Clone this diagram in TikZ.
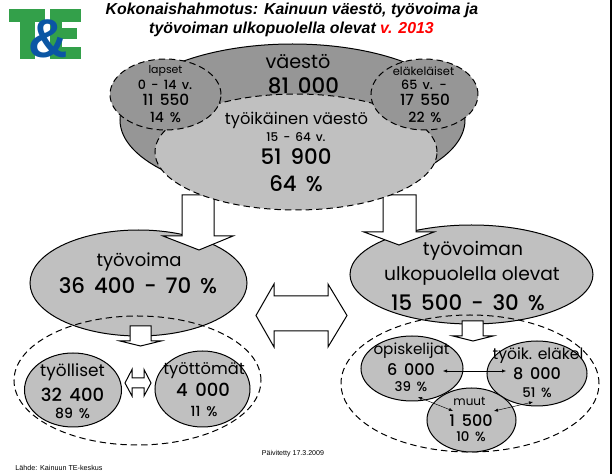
\documentclass[tikz,border=0pt]{standalone}
\usepackage{fontspec}
\setmainfont{Poppins}
\newfontfamily\medf[UprightFont=* Medium]{Poppins}
\newfontfamily\arialf{Liberation Sans}
\usetikzlibrary{shapes.geometric,arrows.meta}
\definecolor{darkg}{HTML}{969696}
\definecolor{lightg}{HTML}{C0C0C0}
\definecolor{logog}{HTML}{33A04A}
\definecolor{logob}{HTML}{0B56A4}
\newcommand{\numf}[1]{\medf\fontsize{#1}{#1}\selectfont\spaceskip=.42em\relax}
\newcommand{\wordf}[1]{\fontsize{#1}{#1}\selectfont}
\tikzset{
 x=0.75pt,y=-0.75pt,
 ell/.style={ellipse,draw=black,line width=0.75pt,inner sep=0pt,outer sep=0pt},
 dashy/.style={dash pattern=on 4.8pt off 3pt},
 blockar/.style={draw=black,fill=white,line width=0.75pt,line join=miter},
 txt/.style={inner sep=0pt,anchor=center},
 thinar/.style={{Latex[length=3pt,width=2.5pt]}-{Latex[length=3pt,width=2.5pt]},line width=0.35pt},
}
\newcommand{\ellat}[6]{\node[ell,minimum width=#3*0.75pt,minimum height=#4*0.75pt,#6] (#5) at (#1,#2) {};}
\begin{document}
\begin{tikzpicture}
\useasboundingbox (0,0) rectangle (612,474);
\fill[black] (609.5,0) rectangle (612,474);
% logo
\fill[logog] (9,9) rectangle (45,22);
\fill[logog] (20,22) rectangle (35,59);
\fill[logog] (50,9) rectangle (81,22);
\fill[logog] (50,9) rectangle (62,59);
\fill[logog] (50,28) rectangle (77,39);
\fill[logog] (50,47) rectangle (81,59);
\node[txt,text=logob,font=\arialf\bfseries\fontsize{41}{41}\selectfont] (amp) at (48,39) {\&};
% title
\node[txt,font=\arialf\bfseries\itshape\fontsize{11.9}{13}\selectfont] (t1) at (292,10) {Kokonaishahmotus: Kainuun väestö, työvoima ja};
\node[txt,font=\arialf\bfseries\itshape\fontsize{11.9}{13}\selectfont] (t2) at (291.5,29) {työvoiman ulkopuolella olevat \textcolor{red}{v. 2013}};
% top and middle ellipses
\ellat{292.5}{120}{345}{152}{vaesto}{fill=darkg}
\ellat{138.5}{283}{217}{106}{tv}{fill=lightg}
\ellat{471.5}{274.5}{243}{99}{ulko}{fill=lightg}
\draw[blockar] (182,215) -- (182,195) -- (214,195) -- (214,236) -- (233,236) -- (199,250) -- (163,236) -- (182,236) -- cycle;
\draw[blockar] (383,215) -- (383,195) -- (416,195) -- (416,232) -- (434,232) -- (399,245) -- (364,232) -- (383,232) -- cycle;
\ellat{296}{152}{282}{116}{tyoik}{fill=lightg,dashy}
\ellat{165.5}{94.5}{111}{71}{lapset}{fill=darkg,dashy}
\ellat{424.5}{94.5}{107}{71}{elak}{fill=darkg,dashy}
\node[txt,font=\wordf{14.4}] (v1) at (298,62) {väestö};
\node[txt,font=\numf{16}] (v2) at (303.5,86) {81 000};
\node[txt,font=\wordf{8.2}] (l1) at (165.5,71) {lapset};
\node[txt,font=\numf{9.5}] (l2) at (165,85) {0 - 14 v.};
\node[txt,font=\numf{11.5}] (l3) at (166,100) {11 550};
\node[txt,font=\numf{10.5}] (l4) at (165.5,117) {14 \%};
\node[txt,font=\wordf{8.6}] (e1) at (423.5,71) {eläkeläiset};
\node[txt,font=\numf{9.5}] (e2) at (424,85) {65 v. -};
\node[txt,font=\numf{11.5}] (e3) at (425,100) {17 550};
\node[txt,font=\numf{10.5}] (e4) at (425,117) {22 \%};
\node[txt,font=\wordf{12.2}] (w1) at (296.5,120) {työikäinen väestö};
\node[txt,font=\numf{9}] (w2) at (296,137) {15 - 64 v.};
\node[txt,font=\numf{16}] (w3) at (296,157) {51 900};
\node[txt,font=\numf{16}] (w4) at (296,184) {64 \%};
% mid text
\node[txt,font=\wordf{13.5}] (tv1) at (139,262) {työvoima};
\node[txt,font=\numf{16}] (tv2) at (138,286) {36 400 - 70 \%};
\node[txt,font=\wordf{14}] (u1) at (473,251) {työvoiman};
\node[txt,font=\wordf{14}] (u2) at (472,276) {ulkopuolella olevat};
\node[txt,font=\numf{16}] (u3) at (468,303) {15 500 - 30 \%};
\draw[blockar] (256,315.5) -- (274,284) -- (274,296) -- (328,296) -- (328,284) -- (347,315.5) -- (328,347) -- (328,331) -- (274,331) -- (274,347) -- cycle;
% lower left
\ellat{137.5}{380.5}{247}{129}{dl}{dashy}
\draw[blockar] (130,326) -- (151,326) -- (151,341) -- (161,341) -- (140.5,346) -- (120,341) -- (130,341) -- cycle;
\ellat{73}{390}{97}{74}{tyol}{fill=lightg}
\ellat{202.5}{389}{95}{76}{tyot}{fill=lightg}
\draw[blockar] (125,383) -- (132,369.5) -- (132,378) -- (144,378) -- (144,369.5) -- (151,383) -- (144,396) -- (144,388) -- (132,388) -- (132,396) -- cycle;
\node[txt,font=\wordf{12.7}] (a1) at (72.5,372) {työlliset};
\node[txt,font=\numf{13.5}] (a2) at (72.5,395) {32 400};
\node[txt,font=\numf{10.5}] (a3) at (72.5,413) {89 \%};
\node[txt,font=\wordf{12.2}] (b1) at (204,371) {työttömät};
\node[txt,font=\numf{13.5}] (b2) at (203,390) {4 000};
\node[txt,font=\numf{10.5}] (b3) at (204,411) {11 \%};
% lower right
\ellat{470}{383.5}{258}{137}{dr}{dashy}
\draw[blockar] (462,321) -- (483,321) -- (483,336) -- (493,336) -- (473,341) -- (453,336) -- (462,336) -- cycle;
\ellat{412}{368.5}{102}{65}{op}{fill=lightg}
\ellat{537}{373.5}{100}{65}{te}{fill=lightg}
\ellat{471.5}{420}{89}{64}{mu}{fill=lightg}
\node[txt,font=\wordf{11.4}] (o1) at (411.5,351) {opiskelijat};
\node[txt,font=\numf{12}] (o2) at (411,370) {6 000};
\node[txt,font=\numf{10}] (o3) at (411,387) {39 \%};
\node[txt,font=\wordf{11.7}] (p1) at (538,356) {työik. eläkel};
\node[txt,font=\numf{12}] (p2) at (537,374) {8 000};
\node[txt,font=\numf{10}] (p3) at (537,393) {51 \%};
\node[txt,font=\wordf{9}] (m1) at (469.5,401) {muut};
\node[txt,font=\numf{12}] (m2) at (471,421) {1 500};
\node[txt,font=\numf{10}] (m3) at (471,437) {10 \%};
\coordinate (c1) at (443,371); \coordinate (c2) at (506,371);
\coordinate (c3) at (418,397); \coordinate (c4) at (453,411);
\coordinate (c5) at (533,402); \coordinate (c6) at (494,411);
\draw[thinar] (c1) -- (c2);
\draw[thinar] (c3) -- (c4);
\draw[thinar] (c5) -- (c6);
% footer
\node[txt,font=\arialf\fontsize{5.3}{6}\selectfont] (pv) at (293,454) {Päivitetty 17.3.2009};
\node[txt,font=\arialf\fontsize{5.4}{6}\selectfont] (ld) at (59,468) {Lähde: Kainuun TE-keskus};
\end{tikzpicture}
\end{document}
